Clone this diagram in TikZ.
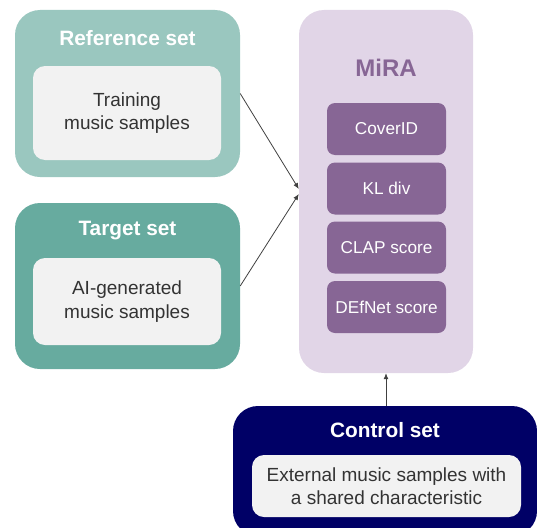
\documentclass[tikz,border=0pt]{standalone}
\usepackage{fontspec}
\setmainfont{Liberation Sans}
\usetikzlibrary{arrows.meta}
\definecolor{refgreen}{HTML}{9AC7BF}
\definecolor{targreen}{HTML}{67AB9F}
\definecolor{innergray}{HTML}{F2F2F2}
\definecolor{txtgray}{HTML}{333333}
\definecolor{mirabg}{HTML}{E1D5E7}
\definecolor{mirapurple}{HTML}{876695}
\definecolor{navy}{HTML}{000066}
\tikzset{
  outerbox/.style={rounded corners=25pt, inner sep=0pt, draw=none},
  innerbox/.style={fill=innergray, rounded corners=12pt, inner sep=0pt, draw=none,
     text=txtgray, align=center, font=\fontsize{19}{23.5}\selectfont},
  titletext/.style={text=white, font=\fontsize{20.8}{24}\selectfont\bfseries, inner sep=0pt},
  metric/.style={fill=mirapurple, rounded corners=8pt, inner sep=0pt, text=white,
     minimum width=119pt, minimum height=52pt, font=\fontsize{17.2}{20}\selectfont},
  conn/.style={draw=black!75, line width=0.8pt, -{Latex[length=6pt,width=5pt]}}
}
\begin{document}
\begin{tikzpicture}[x=1pt,y=-1pt]
\useasboundingbox (0,0) rectangle (537,527);
\clip (0,0) rectangle (537,527);
% Reference set
\node[outerbox, fill=refgreen, minimum width=225pt, minimum height=167pt] (ref) at (127.5,93.5) {};
\node[titletext] (reftitle) at (127.5,38) {Reference set};
\node[innerbox, minimum width=188pt, minimum height=94pt] (refin) at (127,113) {Training\\music samples};
% Target set
\node[outerbox, fill=targreen, minimum width=225pt, minimum height=166pt] (tar) at (127.5,286) {};
\node[titletext] (tartitle) at (127.5,231) {Target set};
\node[innerbox, minimum width=188pt, minimum height=87pt] (tarin) at (127,301.5) {AI-generated\\music samples};
% MiRA
\node[outerbox, fill=mirabg, minimum width=174pt, minimum height=363pt] (mira) at (386,191.5) {};
\node[titletext, text=mirapurple, font=\fontsize{24}{28}\selectfont\bfseries] (miratitle) at (386,68) {MiRA};
\node[metric] (m1) at (386.5,129) {CoverID};
\node[metric] (m2) at (386.5,188.5) {KL div};
\node[metric] (m3) at (386.5,247.5) {CLAP score};
\node[metric] (m4) at (386.5,307) {DEfNet score};
% Control set
\node[outerbox, fill=navy, minimum width=304pt, minimum height=130pt] (ctrl) at (385,471) {};
\node[titletext] (ctrltitle) at (385,430) {Control set};
\node[innerbox, minimum width=269pt, minimum height=62pt] (ctrlin) at (386.5,486) {External music samples with\\a shared characteristic};
% connectors
\draw[conn] (ref.east) -- ([yshift=2.5pt]mira.west);
\draw[conn] (tar.east) -- ([yshift=-2.5pt]mira.west);
\draw[conn] (mira.south |- ctrl.north) -- (mira.south);
\end{tikzpicture}
\end{document}
